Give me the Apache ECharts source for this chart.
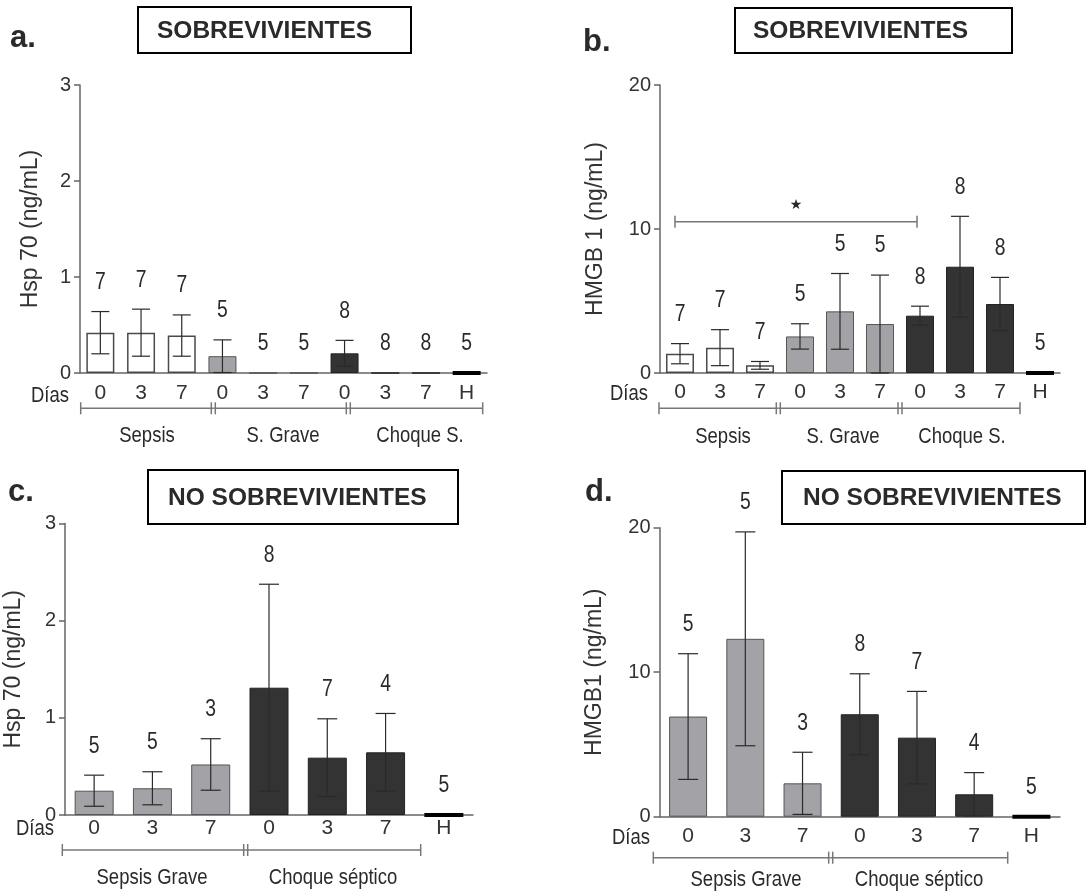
<!DOCTYPE html>
<html>
<head>
<meta charset="utf-8">
<script src="https://cdn.jsdelivr.net/npm/echarts@6/dist/echarts.min.js"></script>
<style>
    html, body { margin: 0; padding: 0; background: #fff; }
    #chart { width: 1089px; height: 892px; }
</style>
</head>
<body>
<div id="chart"></div>
<script>
// categorias del eje x
var dias10 = ['0', '3', '7', '0', '3', '7', '0', '3', '7', 'H'];
var dias7 = ['0', '3', '7', '0', '3', '7', 'H'];
var grupos10 = ['sepsis', 'sepsis', 'sepsis', 'grave', 'grave', 'grave', 'choque', 'choque', 'choque', 'sano'];
var grupos7 = ['grave', 'grave', 'grave', 'choque', 'choque', 'choque', 'sano'];

// a. Hsp 70 - sobrevivientes
var hspSobMedia = [0.42, 0.42, 0.39, 0.175, 0, 0, 0.205, 0, 0, 0];
var hspSobDE = [0.22, 0.245, 0.215, 0.17, 0, 0, 0.135, 0, 0, 0];
var hspSobN = [7, 7, 7, 5, 5, 5, 8, 8, 8, 5];

// b. HMGB 1 - sobrevivientes
var hmgbSobMedia = [1.34, 1.76, 0.53, 2.54, 4.28, 3.40, 3.98, 7.38, 4.79, 0];
var hmgbSobDE = [0.7, 1.25, 0.27, 0.88, 2.63, 3.4, 0.66, 3.5, 1.85, 0];
var hmgbSobN = [7, 7, 7, 5, 5, 5, 8, 8, 8, 5];

// c. Hsp 70 - no sobrevivientes
var hspNoMedia = [0.25, 0.275, 0.52, 1.31, 0.59, 0.645, 0];
var hspNoDE = [0.16, 0.17, 0.265, 1.065, 0.40, 0.40, 0];
var hspNoN = [5, 5, 3, 8, 7, 4, 5];

// d. HMGB1 - no sobrevivientes
var hmgbNoMedia = [6.93, 12.31, 2.31, 7.09, 5.47, 1.55, 0];
var hmgbNoDE = [4.35, 7.4, 2.15, 2.8, 3.2, 1.5, 0];
var hmgbNoN = [5, 5, 3, 8, 7, 4, 5];

// significancia en b (indices de categoria) y altura
var sigPar = [0, 6];
var sigNivel = 10.5;

var fSans = "'Liberation Sans', Arial, sans-serif";
var estrecho = 0.84; // el texto de la figura original esta comprimido en horizontal

var estilos = {
    sepsis: { color: '#ffffff', borderColor: '#4a4a4a', borderWidth: 1.5 },
    grave: { color: '#a3a3a7', borderColor: '#555', borderWidth: 1 },
    choque: { color: '#333333', borderColor: '#222', borderWidth: 1 },
    sano: { color: 'rgba(0,0,0,0)', borderWidth: 0 }
};

var chart = echarts.init(document.getElementById('chart'));

function barData(medias, grupos){
    return medias.map(function(m, i){
        return { value: m, itemStyle: estilos[grupos[i]] };
    });
}

function errData(medias, de, n, cats){
    return medias.map(function(m, i){
        return [i, m, de[i], n[i], cats[i] === 'H' ? 1 : 0];
    });
}

function errorItem(capW, barW, gap){
    return function(params, api){
        var i = api.value(0),
            m = api.value(1),
            sd = api.value(2),
            n = api.value(3),
            isH = api.value(4),
            top = api.coord([i, m + sd]),
            low = api.coord([i, Math.max(m - sd, 0)]),
            base = api.coord([i, 0]),
            children = [],
            lineStyle = { stroke: '#2a2a2a', lineWidth: 1.2 };

        if(sd > 0){
            children.push({ type: 'line', shape: { x1: top[0], y1: top[1], x2: low[0], y2: low[1] }, style: lineStyle });
            children.push({ type: 'line', shape: { x1: top[0] - capW / 2, y1: top[1], x2: top[0] + capW / 2, y2: top[1] }, style: lineStyle });
            children.push({ type: 'line', shape: { x1: low[0] - capW / 2, y1: low[1], x2: low[0] + capW / 2, y2: low[1] }, style: lineStyle });
        }
        if(isH){
            children.push({ type: 'rect', shape: { x: base[0] - barW / 2, y: base[1] - 2, width: barW, height: 4 }, style: { fill: '#000' } });
        }
        children.push({
            type: 'text',
            x: top[0], y: top[1] - gap, scaleX: estrecho,
            style: {
                text: String(n), x: 0, y: 0,
                align: 'center', verticalAlign: 'middle',
                textAlign: 'center', textVerticalAlign: 'middle',
                font: '23px ' + fSans, fill: '#2a2a2a'
            }
        });
        return { type: 'group', children: children };
    };
}

var paneles = [
    { cats: dias10, grupos: grupos10, medias: hspSobMedia, de: hspSobDE, n: hspSobN, max: 3, interval: 1,
      grid: { left: 80, top: 85, width: 407, height: 288 }, barW: 28, nombre: 'Hsp 70 (ng/mL)', nameGap: 38, margin: 10 },
    { cats: dias10, grupos: grupos10, medias: hmgbSobMedia, de: hmgbSobDE, n: hmgbSobN, max: 20, interval: 10,
      grid: { left: 660, top: 85, width: 400, height: 288 }, barW: 28, nombre: 'HMGB 1 (ng/mL)', nameGap: 53, margin: 9 },
    { cats: dias7, grupos: grupos7, medias: hspNoMedia, de: hspNoDE, n: hspNoN, max: 3, interval: 1,
      grid: { left: 65, top: 523.5, width: 408, height: 291.5 }, barW: 39, nombre: 'Hsp 70 (ng/mL)', nameGap: 40, margin: 3 },
    { cats: dias7, grupos: grupos7, medias: hmgbNoMedia, de: hmgbNoDE, n: hmgbNoN, max: 20, interval: 10,
      grid: { left: 659.5, top: 527.7, width: 400.5, height: 289 }, barW: 38, nombre: 'HMGB1 (ng/mL)', nameGap: 53, margin: 9 }
];

var option = {
    animation: false,
    backgroundColor: '#fff',
    grid: [],
    xAxis: [],
    yAxis: [],
    series: []
};

paneles.forEach(function(p, k){
    option.grid.push(p.grid);
    option.xAxis.push({
        type: 'category', gridIndex: k, data: p.cats,
        axisLine: { lineStyle: { color: '#666', width: 1.5 } },
        axisTick: { alignWithLabel: true, length: 7, lineStyle: { color: '#666', width: 1.5 } },
        axisLabel: { margin: p.margin, fontSize: 21, fontFamily: fSans, color: '#333' }
    });
    option.yAxis.push({
        type: 'value', gridIndex: k, min: 0, max: p.max, interval: p.interval,
        splitLine: { show: false },
        axisLine: { show: true, lineStyle: { color: '#666', width: 1.5 } },
        axisTick: { show: true, length: 6, lineStyle: { color: '#666', width: 1.5 } },
        axisLabel: { margin: 9, fontSize: 20, fontFamily: fSans, color: '#333' },
        name: p.nombre, nameLocation: 'middle', nameGap: p.nameGap,
        nameTextStyle: { fontSize: 23, fontFamily: fSans, color: '#333' }
    });
    option.series.push({
        type: 'bar', xAxisIndex: k, yAxisIndex: k, barWidth: p.barW,
        data: barData(p.medias, p.grupos)
    });
    option.series.push({
        type: 'custom', xAxisIndex: k, yAxisIndex: k, z: 5,
        renderItem: errorItem(p.barW < 30 ? 18 : 20, p.barW, 29),
        data: errData(p.medias, p.de, p.n, p.cats)
    });
});

chart.setOption(option);

// anotaciones: recuadros, letras, llaves de grupo
var g = [];

function texto(t, x, y, font, align, sx){
    g.push({
        type: 'text', silent: true, x: x, y: y, scaleX: sx || 1,
        style: { text: t, x: 0, y: 0, font: font, fill: '#2a2a2a',
                 align: align || 'center', verticalAlign: 'middle',
                 textAlign: align || 'center', textVerticalAlign: 'middle' }
    });
}

function linea(x1, y1, x2, y2, color, w){
    g.push({ type: 'line', silent: true, shape: { x1: x1, y1: y1, x2: x2, y2: y2 },
             style: { stroke: color || '#777', lineWidth: w || 1.5 } });
}

function llave(y, xs){
    for(var i = 0; i < xs.length - 1; i++){
        linea(xs[i], y, xs[i + 1], y);
    }
    linea(xs[0], y - 6, xs[0], y + 6);
    linea(xs[xs.length - 1], y - 6, xs[xs.length - 1], y + 6);
    for(var j = 1; j < xs.length - 1; j++){
        linea(xs[j] - 2, y - 6, xs[j] - 2, y + 6);
        linea(xs[j] + 2, y - 6, xs[j] + 2, y + 6);
    }
}

function recuadro(x, y, w, h, t, tx){
    g.push({ type: 'rect', silent: true, shape: { x: x, y: y, width: w, height: h },
             style: { fill: '#fff', stroke: '#000', lineWidth: 2 } });
    texto(t, tx, y + h / 2 + 1, 'bold 24.5px ' + fSans, 'left');
}

recuadro(138, 7, 273, 46, 'SOBREVIVIENTES', 157);
recuadro(735, 8, 277, 45, 'SOBREVIVIENTES', 753);
recuadro(148, 470, 310, 54, 'NO SOBREVIVIENTES', 168);
recuadro(782, 471, 303, 53, 'NO SOBREVIVIENTES', 803);

texto('a.', 10, 38, 'bold 31px ' + fSans, 'left');
texto('b.', 583, 42, 'bold 31px ' + fSans, 'left');
texto('c.', 8, 492, 'bold 31px ' + fSans, 'left');
texto('d.', 585, 492, 'bold 31px ' + fSans, 'left');

var fEje = '22px ' + fSans;
texto('Días', 50, 396, fEje, 'center', estrecho);
texto('Días', 629, 394, fEje, 'center', estrecho);
texto('Días', 35, 829, fEje, 'center', estrecho);
texto('Días', 631, 838, fEje, 'center', estrecho);

llave(408.3, [80.7, 213.3, 348.3, 482.7]);
llave(408.3, [659, 778.3, 900, 1020]);
llave(850, [62.3, 245.7, 420.7]);
llave(857.7, [653.3, 830.7, 1007.7]);

texto('Sepsis', 147, 436, fEje, 'center', estrecho);
texto('S. Grave', 283, 436, fEje, 'center', estrecho);
texto('Choque S.', 420, 436, fEje, 'center', estrecho);
texto('Sepsis', 723, 437, fEje, 'center', estrecho);
texto('S. Grave', 843, 437, fEje, 'center', estrecho);
texto('Choque S.', 962, 437, fEje, 'center', estrecho);
texto('Sepsis Grave', 152, 878, fEje, 'center', estrecho);
texto('Choque séptico', 333, 878, fEje, 'center', estrecho);
texto('Sepsis Grave', 746, 880, fEje, 'center', estrecho);
texto('Choque séptico', 919, 880, fEje, 'center', estrecho);

// llave de significancia en b
var p0 = chart.convertToPixel({ xAxisIndex: 1, yAxisIndex: 1 }, [sigPar[0], sigNivel]);
var p1 = chart.convertToPixel({ xAxisIndex: 1, yAxisIndex: 1 }, [sigPar[1], sigNivel]);
var sx0 = p0[0] - 5, sx1 = p1[0] - 3;
linea(sx0, p0[1], sx1, p0[1], '#777', 1.5);
linea(sx0, p0[1] - 6, sx0, p0[1] + 6, '#777', 1.5);
linea(sx1, p0[1] - 6, sx1, p0[1] + 6, '#777', 1.5);
texto('★', (sx0 + sx1) / 2, p0[1] - 16, '14px DejaVu Sans');

chart.setOption({ graphic: g });
</script>
</body>
</html>
